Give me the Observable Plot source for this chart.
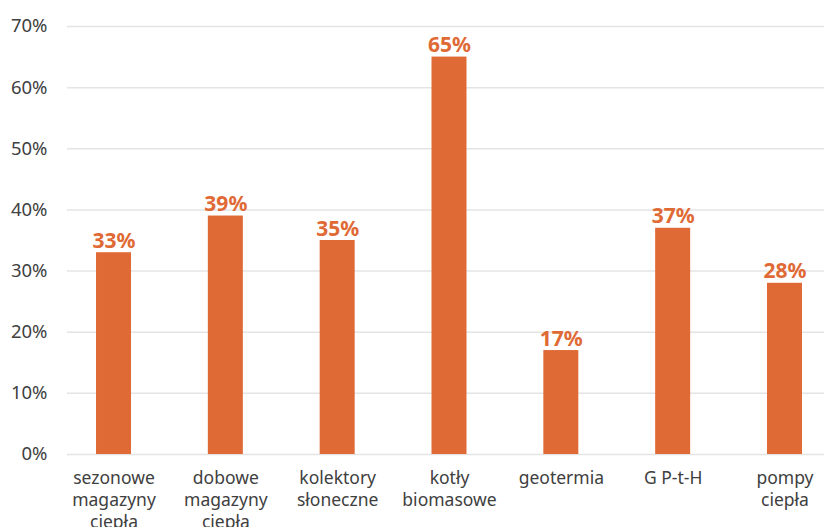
<!DOCTYPE html>
<html>
<head>
<meta charset="utf-8">
<script src="https://cdn.jsdelivr.net/npm/d3@7"></script>
<script src="https://cdn.jsdelivr.net/npm/@observablehq/plot@0.6"></script>
<style>
  html, body { margin: 0; padding: 0; background: #fff; }
  #chart { width: 824px; height: 527px; overflow: hidden; }
</style>
</head>
<body>
<div id="chart"></div>
<script>
// Technologies (x categories) and their shares
const categories = [
  "sezonowe\nmagazyny\nciepła",
  "dobowe\nmagazyny\nciepła",
  "kolektory\nsłoneczne",
  "kotły\nbiomasowe",
  "geotermia",
  "G P-t-H",
  "pompy\nciepła"
];
const shares = [0.33, 0.39, 0.35, 0.65, 0.17, 0.37, 0.28];
const yTicks = [0, 0.1, 0.2, 0.3, 0.4, 0.5, 0.6, 0.7];

const data = categories.map((c, i) => ({category: c, share: shares[i]}));

const orange = "#DF6A35";
const font = "'Noto Sans', 'Open Sans', sans-serif";

const chart = Plot.plot({
  width: 824,
  height: 527,
  marginTop: 26,
  marginLeft: 67,
  marginRight: 0,
  marginBottom: 73,
  style: {fontFamily: font, fontSize: "17px", color: "#404040", background: "#fff"},
  x: {
    domain: categories,
    range: [57.6, 840.4],
    paddingInner: 0.687,
    paddingOuter: 0.3435,
    round: false,
    label: null
  },
  y: {domain: [0, 0.7], label: null},
  marks: [
    Plot.ruleY(yTicks, {stroke: "#e4e4e4", strokeWidth: 1.5}),
    Plot.barY(data, {x: "category", y: "share", fill: orange}),
    Plot.text(data, {
      x: "category",
      y: "share",
      text: d => `${Math.round(d.share * 100)}%`,
      lineAnchor: "bottom",
      dy: -5,
      fill: orange,
      fontWeight: "bold",
      fontSize: 21
    }),
    Plot.axisY(yTicks, {
      tickSize: 0,
      tickPadding: 20,
      tickFormat: d => `${Math.round(d * 100)}%`,
      fontSize: 18.5,
      fill: "#404040"
    }),
    Plot.axisX({
      tickSize: 0,
      tickPadding: 14,
      lineHeight: 1.25,
      fontSize: 17.5,
      fill: "#404040",
      textOverflow: null
    })
  ]
});

document.getElementById("chart").appendChild(chart);
</script>
</body>
</html>
